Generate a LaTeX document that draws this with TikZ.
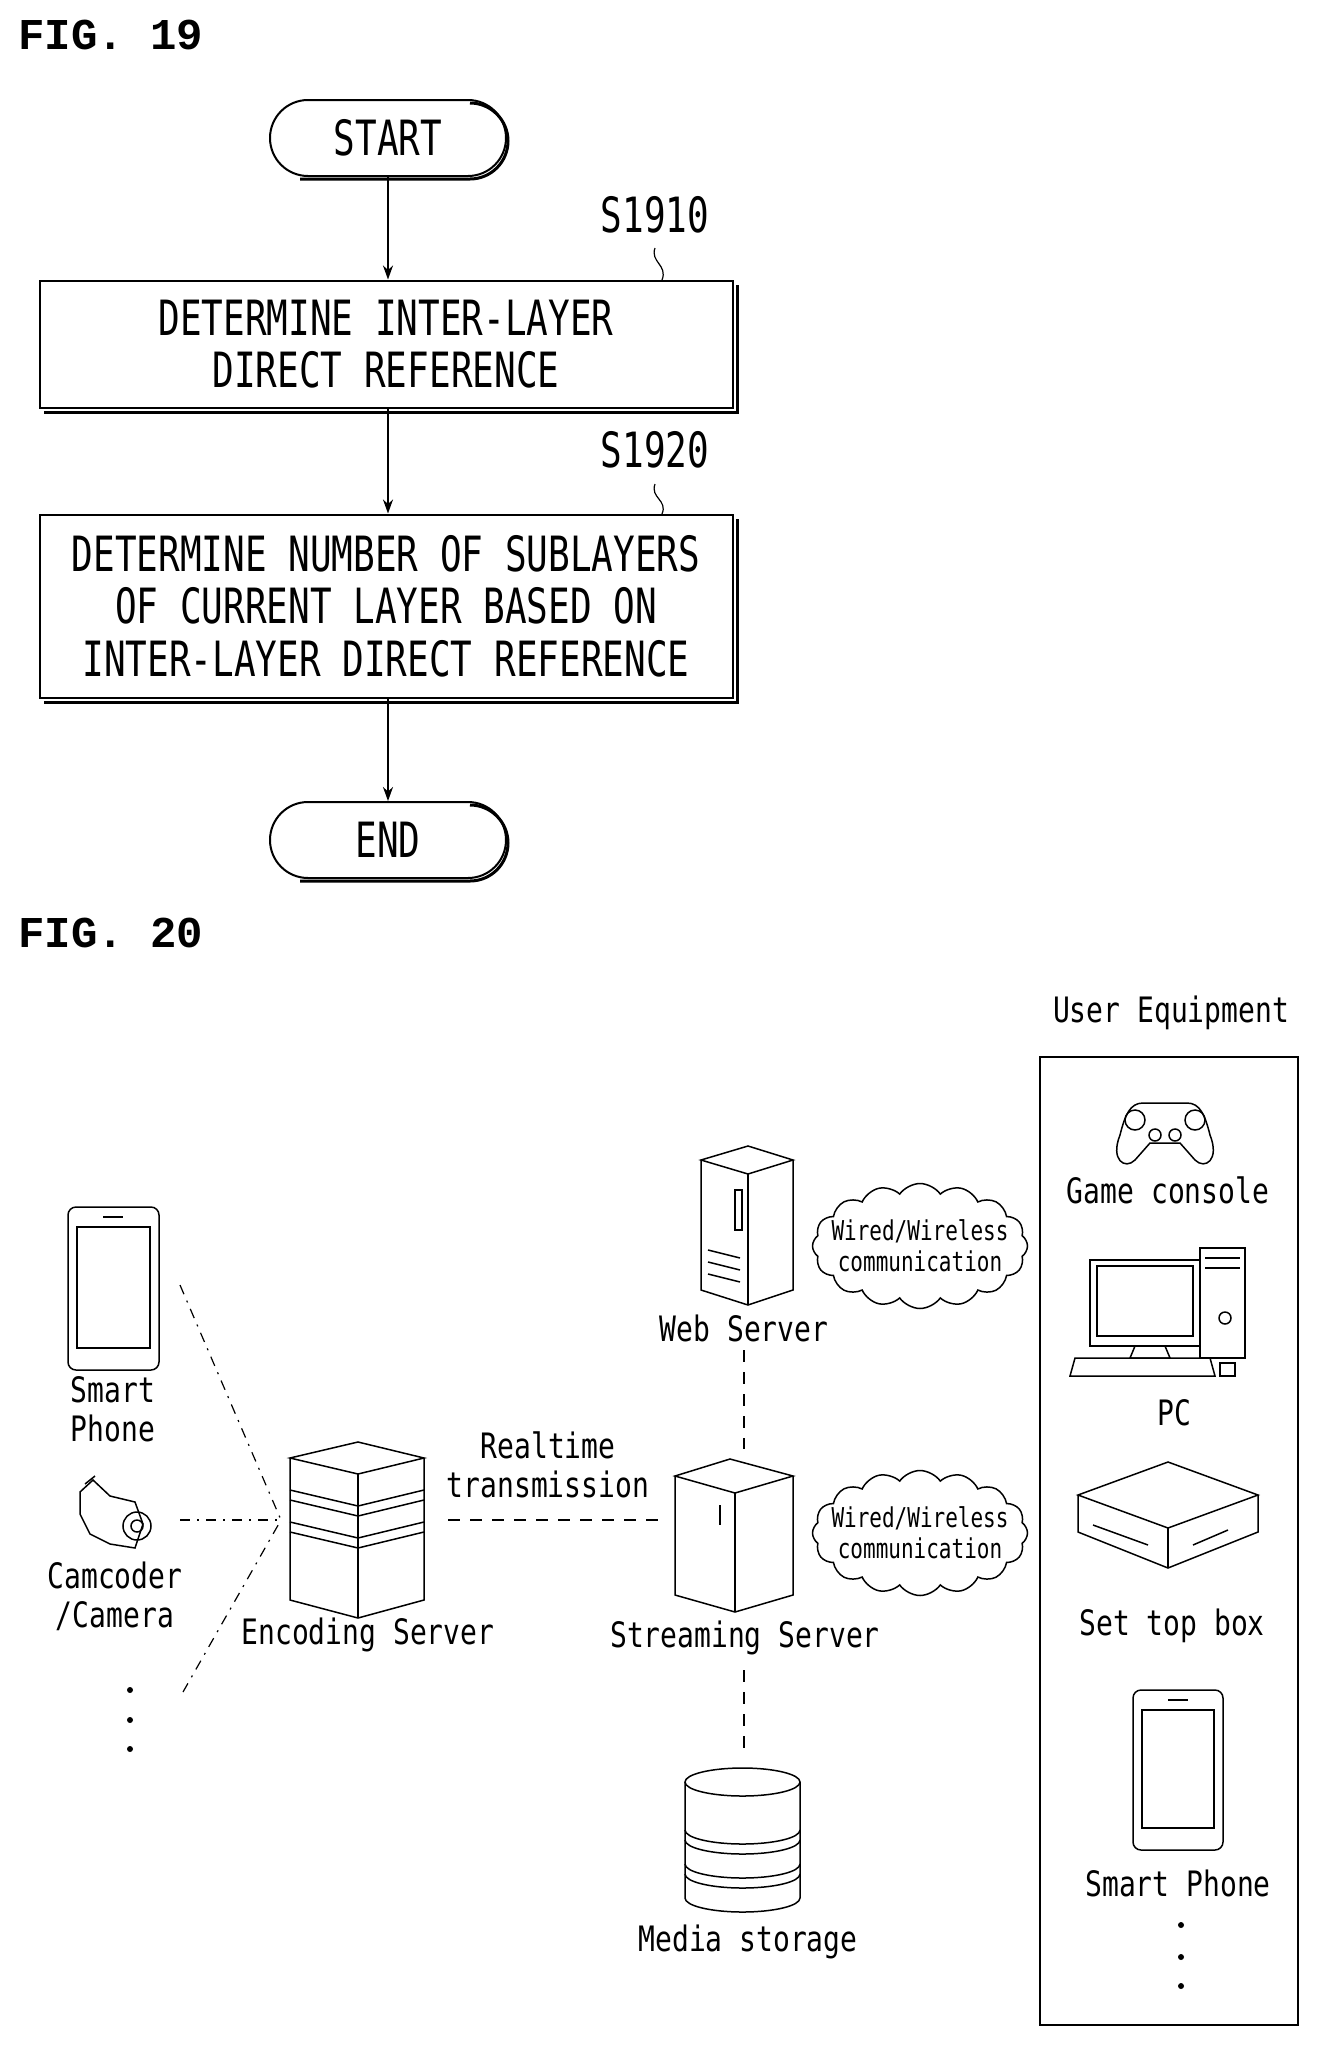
\documentclass[tikz,border=0pt]{standalone}
\usepackage{fontspec}
\setmonofont{DejaVu Sans Mono}
\newfontfamily\figfont{Liberation Mono}
\usetikzlibrary{shapes.symbols,shapes.misc,arrows.meta}
\begin{document}
\begin{tikzpicture}[x=1pt,y=-1pt,line width=2pt,
  ft/.style={font=\ttfamily\fontsize{36}{39}\selectfont,yscale=1.35,align=center},
  lt/.style={font=\ttfamily\fontsize{28}{31}\selectfont,yscale=1.25,align=center},
  fig/.style={font=\figfont\bfseries\fontsize{44}{48}\selectfont,anchor=west},
  term/.style={draw,rounded rectangle,minimum width=236pt,minimum height=76pt,inner sep=0pt},
  box/.style={draw,rectangle,minimum width=693pt,inner sep=0pt},
  arr/.style={-{Stealth[length=14pt,width=10pt]}},
  dsh/.style={line width=1.2pt,dash pattern=on 10pt off 7pt on 2pt off 7pt},
  dsh2/.style={line width=1.2pt,dash pattern=on 12pt off 10pt},
  cl/.style={draw,cloud,cloud puffs=16,cloud puff arc=110,aspect=1.8,minimum width=215pt,minimum height=125pt,inner sep=0pt,line width=1.5pt},
  clt/.style={font=\ttfamily\fontsize{21}{24}\selectfont,yscale=1.3,align=center},
  ic/.style={line width=1.5pt}]
\useasboundingbox (0,0) rectangle (1336,2072);
\fill[white] (0,0) rectangle (1336,2072);
% FIG 19
\node[fig] (f19) at (14,35) {FIG. 19};
\node[term] (start) at (388,138) {};
\draw[line width=3pt] (470,103) arc[start angle=-90,end angle=90,radius=38] -- (300,179);
\node[ft] at (start) {START};
\node[box,minimum height=127pt] (b1) at (386,344) {};
\draw[line width=3pt] (44,412) -- (737,412) -- (737,285);
\node[ft] at (b1) {DETERMINE INTER-LAYER\\DIRECT REFERENCE};
\node[box,minimum height=183pt] (b2) at (386,606) {};
\draw[line width=3pt] (44,702) -- (737,702) -- (737,519);
\node[ft] at (b2) {DETERMINE NUMBER OF SUBLAYERS\\OF CURRENT LAYER BASED ON\\INTER-LAYER DIRECT REFERENCE};
\node[term] (end) at (388,840) {};
\draw[line width=3pt] (470,805) arc[start angle=-90,end angle=90,radius=38] -- (300,881);
\node[ft] at (end) {END};
\node[ft] (s1) at (655,215) {S1910};
\node[ft] (s2) at (655,450) {S1920};
\draw[line width=1.2pt] (655,248) .. controls (650,262) and (668,265) .. (662,280);
\draw[line width=1.2pt] (655,484) .. controls (650,498) and (668,500) .. (662,514);
\draw[arr] (start.south) -- (b1.north -| start.south);
\draw[arr] (b1.south -| start.south) -- (b2.north -| start.south);
\draw[arr] (b2.south -| start.south) -- (end.north);
% FIG 20
\node[fig] (f20) at (14,933) {FIG. 20};
\node[lt] (ue) at (1171,1013) {User Equipment};
\node[draw,line width=2.5pt,minimum width=258pt,minimum height=968pt] (uebox) at (1169,1541) {};
% game console
\begin{scope}[ic,shift={(1165,1125)}]
\draw (-45,10) .. controls (-55,35) and (-40,45) .. (-30,35) -- (-15,18) -- (15,18) -- (30,35) .. controls (40,45) and (55,35) .. (45,10) .. controls (40,-10) and (35,-22) .. (22,-22) -- (-22,-22) .. controls (-35,-22) and (-40,-10) .. (-45,10) -- cycle;
\draw (-30,-5) circle (10); \draw (30,-5) circle (10);
\draw (-10,10) circle (6); \draw (10,10) circle (6);
\end{scope}
\node[lt] (gc) at (1168,1190) {Game console};
% PC
\begin{scope}[ic,shift={(1165,1318)}]
\draw (-75,-58) rectangle (35,28); \draw (-68,-52) rectangle (28,18);
\draw (35,-70) rectangle (80,40); \draw (40,-60) -- (75,-60); \draw (40,-50)--(75,-50);
\draw (60,0) circle (6);
\draw (-30,28) -- (-35,40) -- (5,40) -- (0,28);
\draw (-90,40) -- (45,40) -- (50,58) -- (-95,58) -- cycle;
\draw (55,45) rectangle (70,58);
\end{scope}
\node[lt] (pc) at (1174,1413) {PC};
% set top box
\begin{scope}[ic,shift={(1168,1520)}]
\draw (-90,-25) -- (0,-58) -- (90,-25) -- (0,8) -- cycle;
\draw (-90,-25) -- (-90,12) -- (0,48) -- (90,12) -- (90,-25);
\draw (0,8) -- (0,48);
\draw (-75,5) -- (-20,25); \draw (25,25) -- (60,10);
\end{scope}
\node[lt] (stb) at (1172,1626) {Set top box};
% UE phone
\begin{scope}[ic]
\draw[rounded corners=8pt] (1133,1690) rectangle (1223,1850);
\draw (1142,1710) rectangle (1214,1828);
\draw (1168,1700) -- (1188,1700);
\end{scope}
\node[lt] (sp2) at (1178,1883) {Smart Phone};
\foreach \y in {1925,1957,1986} \fill (1181,\y) circle (3);
% left phone
\begin{scope}[ic]
\draw[rounded corners=8pt] (68,1207) rectangle (159,1370);
\draw (77,1227) rectangle (150,1348);
\draw (103,1217) -- (123,1217);
\end{scope}
\node[lt] (sp1) at (113,1409) {Smart\\Phone};
% camcorder
\begin{scope}[ic,shift={(115,1514)}]
\draw (-35,-22) -- (-22,-34) -- (-5,-18) -- (20,-12) -- (28,10) -- (20,34) -- (-5,30) -- (-25,20) -- (-35,0) -- cycle;
\draw (22,12) circle (14); \draw (22,12) circle (6);
\draw (-30,-30) -- (-20,-38);
\end{scope}
\node[lt] (cam) at (115,1596) {Camcoder\\/Camera};
\foreach \y in {1690,1720,1749} \fill (130,\y) circle (3);
% encoding server
\begin{scope}[ic]
\draw (290,1458) -- (358,1442) -- (424,1458) -- (358,1474) -- cycle;
\draw (290,1458) -- (290,1600) -- (358,1618) -- (424,1600) -- (424,1458);
\draw (358,1474) -- (358,1618);
\draw (290,1490) -- (358,1506) -- (424,1490);
\draw (290,1500) -- (358,1516) -- (424,1500);
\draw (290,1522) -- (358,1538) -- (424,1522);
\draw (290,1532) -- (358,1548) -- (424,1532);
\end{scope}
\node[lt] (encl) at (368,1635) {Encoding Server};
\coordinate (fan) at (281,1520);
\draw[dsh] (180,1285) -- (fan);
\draw[dsh] (180,1520) -- (fan);
\draw[dsh] (183,1692) -- (fan);
% streaming server
\begin{scope}[ic]
\draw (675,1476) -- (730,1459) -- (793,1476) -- (735,1493) -- cycle;
\draw (675,1476) -- (675,1595) -- (735,1612) -- (793,1595) -- (793,1476);
\draw (735,1493) -- (735,1612);
\draw (720,1505) -- (720,1525);
\end{scope}
\node[lt] (strl) at (745,1638) {Streaming Server};
\node[lt] (rt) at (548,1465) {Realtime\\transmission};
\draw[dsh2] (448,1520) -- (659,1520);
% web server
\begin{scope}[ic]
\draw (701,1160) -- (748,1146) -- (793,1160) -- (748,1174) -- cycle;
\draw (701,1160) -- (701,1290) -- (748,1305) -- (793,1290) -- (793,1160);
\draw (748,1174) -- (748,1305);
\draw (735,1190) rectangle (742,1230);
\foreach \y in {1250,1262,1274} \draw (708,\y) -- (740,\y+8);
\end{scope}
\node[lt] (webl) at (744,1328) {Web Server};
\coordinate (wa) at (744,1350); \coordinate (wb) at (744,1449);
\draw[dsh2] (wa) -- (wb);
\coordinate (ma) at (744,1670); \coordinate (mb) at (744,1755);
\draw[dsh2] (ma) -- (mb);
% media storage
\begin{scope}[ic]
\draw (685,1782) -- (685,1898) arc[start angle=180,end angle=0,x radius=57.5,y radius=14] -- (800,1782);
\draw (742.5,1782) ellipse (57.5 and 14);
\draw (685,1830) arc[start angle=180,end angle=0,x radius=57.5,y radius=14];
\draw (685,1840) arc[start angle=180,end angle=0,x radius=57.5,y radius=14];
\draw (685,1864) arc[start angle=180,end angle=0,x radius=57.5,y radius=14];
\draw (685,1874) arc[start angle=180,end angle=0,x radius=57.5,y radius=14];
\end{scope}
\node[lt] (msl) at (748,1942) {Media storage};
% clouds
\node[cl] (c1) at (920,1246) {};
\node[clt] at (c1) {Wired/Wireless\\communication};
\node[cl] (c2) at (920,1533) {};
\node[clt] at (c2) {Wired/Wireless\\communication};
\end{tikzpicture}
\end{document}
